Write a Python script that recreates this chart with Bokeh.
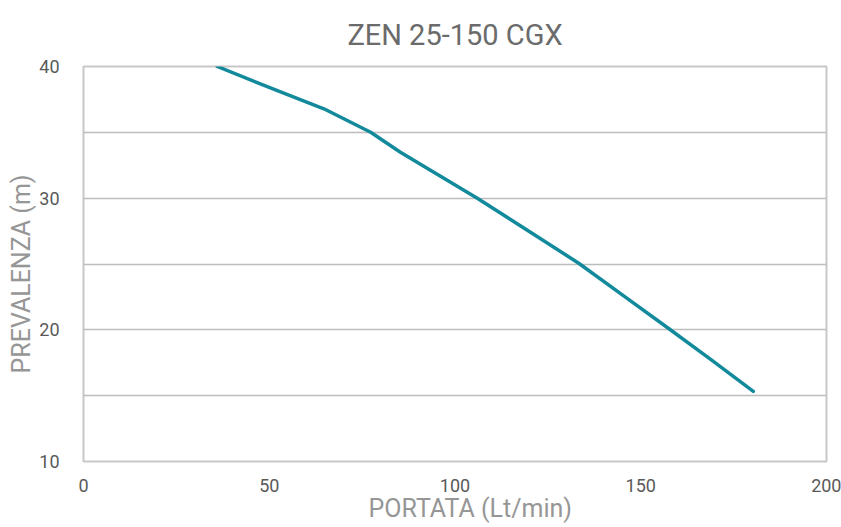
from bokeh.plotting import figure
from bokeh.embed import file_html
from bokeh.resources import INLINE
from bokeh.models import Range1d, FixedTicker, Title

# Data
portata = [36.0, 53.9, 64.7, 71.0, 77.3, 85.3, 94.3, 106.0, 120.0, 133.3, 145.5, 157.6, 169.0, 180.3]
prevalenza = [40.0, 37.97, 36.79, 35.90, 35.01, 33.49, 31.97, 30.0, 27.47, 25.06, 22.56, 20.08, 17.72, 15.32]
x_ticks = [0, 50, 100, 150, 200]
y_ticks = [10, 20, 30, 40]
y_grid = [10, 15, 20, 25, 30, 35, 40]
x_label = "PORTATA (Lt/min)"
y_label = "PREVALENZA (m)"
chart_title = "ZEN 25-150 CGX"

FONT = "Roboto"
TEXT = "#6b6b6b"
LABEL = "#969696"

p = figure(width=841, height=527, output_backend="svg", toolbar_location=None,
           x_range=Range1d(0, 200), y_range=Range1d(10, 40),
           title=chart_title,
           min_border_left=83, min_border_right=15, min_border_top=66, min_border_bottom=66)
p.frame_width = 743
p.frame_height = 395

p.title.align = "center"
p.title.text_font = FONT
p.title.text_font_size = "29px"
p.title.text_font_style = "normal"
p.title.text_color = TEXT
p.title.standoff = 28
p.title.vertical_align = "middle"

p.outline_line_color = "#c8c8c8"
p.outline_line_width = 2

p.xaxis.ticker = FixedTicker(ticks=x_ticks)
p.yaxis.ticker = FixedTicker(ticks=y_ticks)
p.xgrid.visible = False
p.ygrid.ticker = FixedTicker(ticks=y_grid)
p.ygrid.grid_line_color = "#bdbdbd"
p.ygrid.grid_line_width = 1.5

for ax in (p.xaxis[0], p.yaxis[0]):
    ax.axis_line_color = None
    ax.major_tick_line_color = None
    ax.minor_tick_line_color = None
    ax.major_label_text_font = FONT
    ax.major_label_text_font_size = "18px"
    ax.major_label_text_color = "#595959"

p.yaxis.major_label_standoff = 18
p.xaxis.major_label_standoff = 11

xt = Title(text=x_label, align="left", offset=285, standoff=-5,
           text_font=FONT, text_font_size="25px", text_font_style="normal", text_color=LABEL)
p.add_layout(xt, "below")
yt = Title(text=y_label, align="left", offset=88, standoff=2,
           text_font=FONT, text_font_size="25px", text_font_style="normal", text_color=LABEL)
p.add_layout(yt, "left")

p.line(portata, prevalenza, line_color="#138a9c", line_width=3.5, line_cap="round", line_join="round")

open("out.html", "w").write(file_html(p, INLINE))
